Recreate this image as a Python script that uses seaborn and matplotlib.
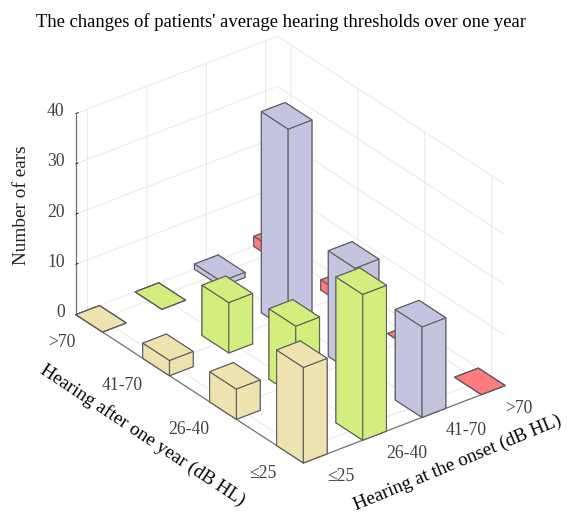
import numpy as np
import pandas as pd
import seaborn as sns
import matplotlib.pyplot as plt

sns.set_theme(style='white')
plt.rcParams['font.family'] = ['Liberation Serif', 'DejaVu Sans']
plt.rcParams['grid.color'] = '#e8e8e8'
plt.rcParams['grid.linewidth'] = 0.7

# ear counts, one list per onset group, in the order of after_labels
onset_labels = ['≤25', '26-40', '41-70', '>70']
after_labels = ['≤25', '26-40', '41-70', '>70']
onset_le25 = [19, 6, 3, 0]
onset_26_40 = [29, 14, 10, 0]
onset_41_70 = [18, 21, 40, 1]
onset_gt70 = [0, 0, 2, 2]
palette = ['#EEE2AE', '#D2EF7E', '#C4C4E0', '#FF7B7F']

rows = []
for i, vals in enumerate([onset_le25, onset_26_40, onset_41_70, onset_gt70]):
    for j, v in enumerate(vals):
        rows.append({'onset': i + 1, 'after': j + 1, 'ears': v, 'color': palette[i]})
df = pd.DataFrame(rows)

w = 0.4
fig = plt.figure(figsize=(5.67, 5.14), dpi=100)
ax = fig.add_axes([0, 0.5 / 514, 1, 1], projection='3d', proj_type='ortho')
ax.view_init(elev=30, azim=-127.5)
ax.set_box_aspect((253, 372, 231), zoom=0.96)

ax.bar3d(df['onset'] - w / 2, df['after'] - w / 2, np.zeros(len(df)), w, w, df['ears'],
         color=df['color'].tolist(), shade=False, edgecolor='#5f5f5f', linewidth=0.8, zsort='max')

ax.set_xlim(0.8, 4.2)
ax.set_ylim(0.8, 4.2)
ax.set_zlim(0, 40)
ax.set_xticks([1, 2, 3, 4])
ax.set_yticks([1, 2, 3, 4])
ax.set_zticks([0, 10, 20, 30, 40])
ax.set_xticklabels(onset_labels, fontsize=12.7, color='#404040', ha='left', va='center')
ax.set_yticklabels(after_labels, fontsize=12.7, color='#404040', ha='right', va='center')
ax.set_zticklabels(['0', '10', '20', '30', '40'], fontsize=12.7, color='#404040', ha='right', va='center')
ax.tick_params(axis='x', pad=2)
ax.tick_params(axis='y', pad=5)
ax.tick_params(axis='z', pad=-3)

for axis in (ax.xaxis, ax.yaxis, ax.zaxis):
    axis.set_pane_color((1, 1, 1, 1))
    axis.pane.set_edgecolor('white')
    axis.line.set_color('#707070')
    axis.line.set_linewidth(0.9)
    axis._axinfo['tick']['inward_factor'] = 0
    axis._axinfo['tick']['outward_factor'] = 0.15
    axis._axinfo['tick']['color'] = '#707070'
    axis._axinfo['tick']['linewidth'] = {True: 0.7, False: 0.7}

fig.text(281, 514 - 22, "The changes of patients' average hearing thresholds over one year",
         transform=None, ha='center', va='center', fontsize=13.45, color='black')
fig.text(22, 514 - 205, 'Number of ears', transform=None, ha='center', va='center',
         rotation=90, fontsize=13.9, color='#222222')
fig.text(143, 514 - 435, 'Hearing after one year (dB HL)', transform=None, ha='center', va='center',
         rotation=-33.5, rotation_mode='anchor', fontsize=13.8, color='black')
fig.text(458, 514 - 463, 'Hearing at the onset (dB HL)', transform=None, ha='center', va='center',
         rotation=22.7, rotation_mode='anchor', fontsize=13.8, color='black')

plt.savefig('out.png', dpi=100)
